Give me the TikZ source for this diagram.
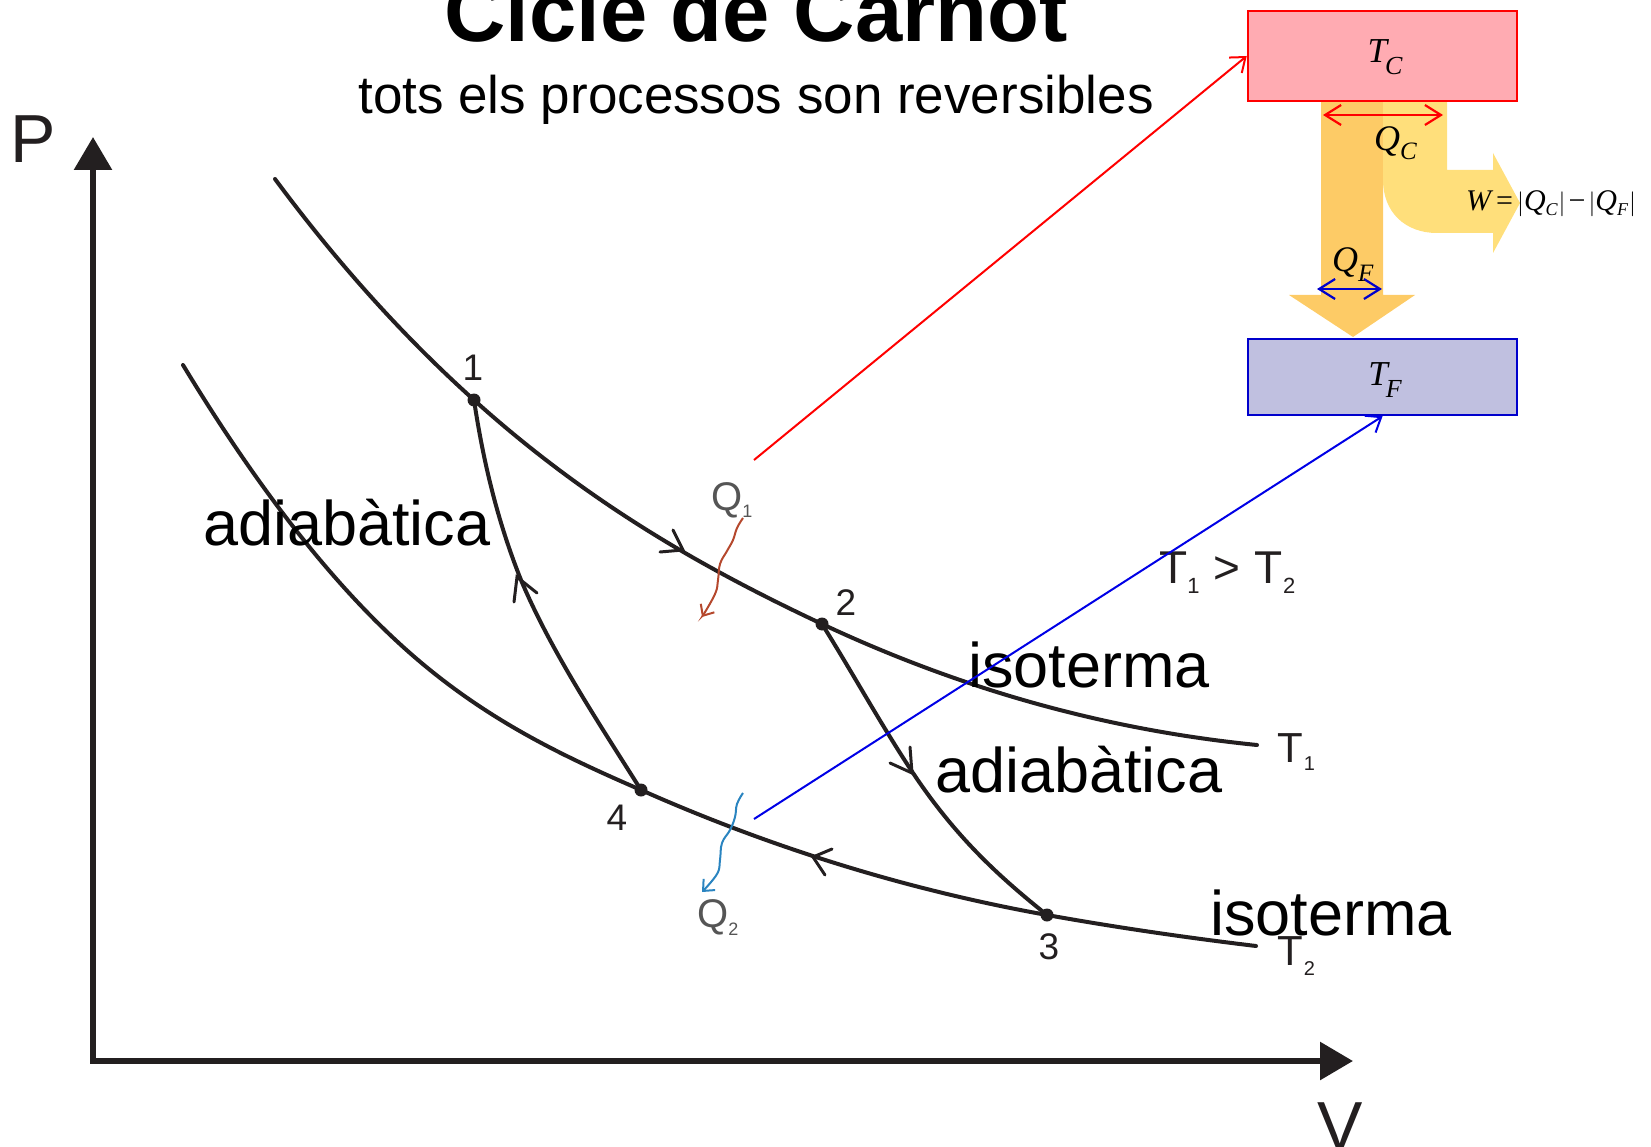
\documentclass[tikz,border=0pt]{standalone}
\usepackage{fontspec}
\setmainfont{Liberation Sans}
\newfontfamily\timesf{Liberation Serif}
\usetikzlibrary{arrows.meta}
\definecolor{hotfill}{RGB}{255,171,178}
\definecolor{coldfill}{RGB}{192,192,224}
\definecolor{coldline}{RGB}{0,0,204}
\definecolor{orangeflow}{RGB}{253,203,102}
\definecolor{yellowflow}{RGB}{255,223,123}
\definecolor{qone}{RGB}{181,72,45}
\definecolor{qtwo}{RGB}{42,132,192}
\definecolor{ink}{RGB}{35,31,32}
\definecolor{qgray}{RGB}{85,85,85}
\definecolor{linkblue}{RGB}{0,0,230}
\newcommand\lsub[3]{\raisebox{-#1}{\fontsize{#2}{#2}\selectfont #3}}
\begin{document}
\begin{tikzpicture}[x=1pt,y=-1pt,
  curve/.style={draw=ink, line width=4pt, line cap=round},
  barb/.style={draw=ink, line width=3pt, line cap=round, line join=miter},
  axisline/.style={draw=ink, line width=6pt},
  dot/.style={circle, fill=ink, inner sep=0pt, minimum size=13pt},
  numlab/.style={font=\fontsize{37}{40}\selectfont, text=ink, inner sep=0pt, anchor=base},
  biglab/.style={font=\fontsize{63}{70}\selectfont, text=black, inner sep=0pt, anchor=base west},
  reservoir/.style={rectangle, minimum width=269pt, inner sep=0pt, line width=2.5pt},
  link/.style={line width=2pt, -{Straight Barb[length=13pt,width=20pt]}},
  qarrow/.style={line width=2.2pt, {Straight Barb[length=16pt,width=20pt]}-{Straight Barb[length=16pt,width=20pt]}},
  wavy/.style={line width=2pt, -{Straight Barb[length=9pt,width=16pt]}},
  qlab/.style={font=\fontsize{40}{44}\selectfont, text=qgray, inner sep=0pt, anchor=base west}
]
\useasboundingbox (0,0) rectangle (1651,1147);

% titles
\node[font=\fontsize{85}{90}\selectfont\bfseries, anchor=base, inner sep=0pt] (title) at (756,42) {Cicle de Carnot};
\node[font=\fontsize{53}{60}\selectfont, anchor=base, inner sep=0pt] (subtitle) at (756,114) {tots els processos son reversibles};

% axes
\coordinate (ptop) at (93,137);
\coordinate (origin) at (93,1061);
\coordinate (vend) at (1353,1061);
\draw[axisline, {Triangle[length=33pt,width=37pt]}-{Triangle[length=33pt,width=37pt]}] (ptop) -- (origin) -- (vend);
\node[font=\fontsize{68}{70}\selectfont, text=ink, anchor=base, inner sep=0pt] (plab) at (33,163) {P};
\node[font=\fontsize{68}{70}\selectfont, text=ink, anchor=base, inner sep=0pt] (vlab) at (1340,1149) {V};

% state points (positions)
\coordinate (c1) at (474,400);
\coordinate (c2) at (822,624);
\coordinate (c3) at (1047,915);
\coordinate (c4) at (641,790);

% isotherm T1
\draw[curve] (275,179) .. controls (341.3,268.5) and (407.7,340.3) .. (c1)
  .. controls (590,504.4) and (706,569.5) .. (c2)
  .. controls (967,692) and (1112,730.5) .. (1257,745);
% isotherm T2
\draw[curve] (183,365) .. controls (261.3,494.3) and (339.7,593.4) .. (418,660)
  .. controls (492,722.9) and (566,757.4) .. (c4)
  .. controls (775.7,849.7) and (911.3,890.6) .. (c3)
  .. controls (1116.7,927.5) and (1186.3,937.6) .. (1256,946);
% adiabats
\draw[curve] (c4) .. controls (596.9,720) and (550.4,650) .. (521,580)
  .. controls (497,520) and (483,460) .. (c1);
\draw[curve] (c2) .. controls (852.3,672.5) and (882.7,727.5) .. (913,773)
  .. controls (957.7,840) and (1002.3,879.2) .. (c3);

% direction chevrons
\draw[barb] (673,530) -- (683,550) -- (660,552);
\draw[barb] (514,602) -- (517,577) -- (537,593);
\draw[barb] (890,763) -- (912,773) -- (910,747);
\draw[barb] (832,849) -- (813,857) -- (825,875);

% state points
\node[dot] (p1) at (c1) {};
\node[dot] (p2) at (c2) {};
\node[dot] (p3) at (c3) {};
\node[dot] (p4) at (c4) {};
\node[numlab] (l1) at (473,380) {1};
\node[numlab] (l2) at (846,615) {2};
\node[numlab] (l3) at (1049,959) {3};
\node[numlab] (l4) at (617,830) {4};

% big labels
\node[biglab] (ad1) at (203,545) {adiabàtica};
\node[biglab] (ad2) at (935,792) {adiabàtica};
\node[biglab] (is1) at (968,687) {isoterma};
\node[biglab] (is2) at (1210,935) {isoterma};

% temperature labels
\node[font=\fontsize{46}{50}\selectfont, text=ink, anchor=base west, inner sep=0pt] (tcmp) at (1159,583) {T\lsub{10pt}{22}{1} \kern1pt> \kern2pt T\lsub{10pt}{22}{2}};
\node[font=\fontsize{42}{46}\selectfont, text=ink, anchor=base west, inner sep=0pt] (t1lab) at (1277,762) {T\kern1pt\lsub{8pt}{20}{1}};
\node[font=\fontsize{42}{46}\selectfont, text=ink, anchor=base west, inner sep=0pt] (t2lab) at (1277,965) {T\kern1pt\lsub{10pt}{20}{2}};

% heat labels and wavy arrows
\node[qlab] (q1) at (711,510) {Q\lsub{7pt}{18}{1}};
\node[qlab] (q2) at (697,927) {Q\lsub{8pt}{18}{2}};
\draw[wavy, qone] plot[smooth, tension=0.7] coordinates {(743,518) (737,528) (733,540) (727,551) (720,564) (718,580) (715,594) (702,617)};
\draw[wavy, qtwo] plot[smooth, tension=0.7] coordinates {(743,793) (737,804) (735,817) (730,830) (722,843) (720,860) (717,874) (702,892)};

% engine diagram: flows
\fill[orangeflow] (1321,101) -- (1321,295) -- (1289,295) -- (1353,337) -- (1415,295) -- (1383,295) -- (1383,101) -- cycle;
\fill[yellowflow] (1383,101) -- (1383,180) .. controls (1383,212) and (1405,233) .. (1437,233) -- (1493,233) -- (1493,253) -- (1520,203) -- (1493,153) -- (1493,170) -- (1447,170) -- (1447,101) -- cycle;

% reservoirs
\node[reservoir, fill=hotfill, draw=red, minimum height=90pt] (hot) at (1382.5,56) {};
\node[reservoir, fill=coldfill, draw=coldline, minimum height=76pt] (cold) at (1382.5,377) {};
\node[font=\timesf\itshape\fontsize{35}{38}\selectfont, anchor=base, inner sep=0pt] (tc) at (1385,63) {T\kern-2pt\lsub{12pt}{26}{C}};
\node[font=\timesf\itshape\fontsize{35}{38}\selectfont, anchor=base, inner sep=0pt] (tf) at (1385,385) {T\kern-2pt\lsub{12pt}{26}{F}};

% heat arrows in engine diagram
\coordinate (qcl) at (1323,115);
\coordinate (qcr) at (1443,115);
\draw[qarrow, red] (qcl) -- (qcr);
\node[font=\timesf\itshape\fontsize{36}{38}\selectfont, anchor=base west, inner sep=0pt] (qc) at (1374,151) {Q\lsub{9pt}{25}{C}};
\coordinate (qfl) at (1317,289);
\coordinate (qfr) at (1382,289);
\draw[qarrow, coldline] (qfl) -- (qfr);
\node[font=\timesf\itshape\fontsize{36}{38}\selectfont, anchor=base west, inner sep=0pt] (qf) at (1332,272) {Q\lsub{10pt}{25}{F}};
\node[font=\timesf\fontsize{30}{32}\selectfont, anchor=base west, inner sep=0pt] (wlab) at (1466,211) {\itshape W\upshape\kern5pt=\kern4pt$|$\itshape Q\lsub{5pt}{18}{C}\upshape\kern1pt$|$\kern3pt−\kern3pt$|$\itshape Q\lsub{5pt}{18}{F}\upshape\kern1pt$|$};

% connectors from heat exchanges to reservoirs
\coordinate (q1start) at (754,460);
\coordinate (q2start) at (754,819);
\draw[link, red] (q1start) -- (hot.west);
\draw[link, linkblue] (q2start) -- (cold.south);
\end{tikzpicture}
\end{document}
